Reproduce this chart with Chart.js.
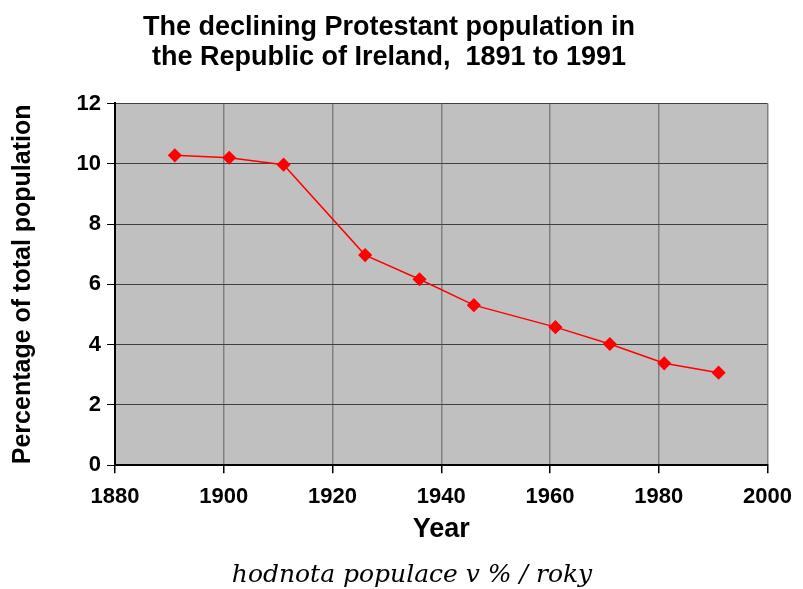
<!DOCTYPE html>
<html>
<head>
<meta charset="utf-8">
<script src="https://cdn.jsdelivr.net/npm/chart.js@4/dist/chart.umd.min.js"></script>
<style>
  html, body { margin: 0; padding: 0; background: #fff; }
  #wrap { width: 803px; height: 589px; position: relative; }
  #caption {
    position: absolute; left: 0; width: 824px; top: 559px;
    text-align: center; font: italic 25px "DejaVu Serif", serif; color: #000;
  }
</style>
</head>
<body>
<div id="wrap">
  <canvas id="chart" width="803" height="589"></canvas>
  <div id="caption"></div>
</div>
<script>
// Data
const years = [1891, 1901, 1911, 1926, 1936, 1946, 1961, 1971, 1981, 1991];
const percentages = [10.28, 10.2, 9.97, 6.97, 6.17, 5.31, 4.58, 4.02, 3.38, 3.07];
const titleLines = ['The declining Protestant population in', 'the Republic of Ireland,  1891 to 1991'];
const caption = 'hodnota populace v % / roky';

document.getElementById('caption').textContent = caption;

// grey plot background
const plotBg = {
    id: 'plotBg',
    beforeDraw(chart) {
        const a = chart.chartArea;
        const ctx = chart.ctx;
        ctx.save();
        ctx.fillStyle = '#c0c0c0';
        ctx.fillRect(a.left, a.top, a.right - a.left, a.bottom - a.top);
        ctx.restore();
    }
};

const boldFont = '"Liberation Sans", Arial, sans-serif';

new Chart(document.getElementById('chart').getContext('2d'), {
    type: 'line',
    data: {
        datasets: [{
            data: years.map((y, i) => ({ x: y, y: percentages[i] })),
            borderColor: '#ff0000',
            backgroundColor: '#ff0000',
            borderWidth: 1.5,
            pointStyle: 'rectRot',
            pointRadius: 6,
            pointHoverRadius: 6,
            tension: 0
        }]
    },
    options: {
        responsive: false,
        animation: false,
        layout: { padding: { left: 8, right: 33, top: 8, bottom: 43 } },
        plugins: {
            legend: { display: false },
            tooltip: { enabled: false },
            title: {
                display: true,
                text: titleLines,
                color: '#000',
                font: { family: boldFont, size: 27, weight: 'bold', lineHeight: 1.12 },
                padding: { top: 4, bottom: 31 }
            }
        },
        scales: {
            x: {
                type: 'linear',
                min: 1880,
                max: 2000,
                ticks: {
                    stepSize: 20,
                    color: '#000',
                    font: { family: boldFont, size: 22, weight: 'bold' },
                    padding: 11,
                    callback: v => String(v)
                },
                grid: { color: '#808080', lineWidth: 1.5, tickColor: '#000', tickLength: 8 },
                border: { color: '#000', width: 2 },
                title: {
                    display: true,
                    text: 'Year',
                    color: '#000',
                    font: { family: boldFont, size: 27, weight: 'bold' },
                    padding: { top: -8, bottom: 0 }
                }
            },
            y: {
                min: 0,
                max: 12,
                afterFit(scale) { scale.width = 107; },
                ticks: {
                    stepSize: 2,
                    color: '#000',
                    font: { family: boldFont, size: 22, weight: 'bold' },
                    padding: 6
                },
                grid: { color: '#404040', lineWidth: 1, borderDash: [2, 2], tickColor: '#000', tickLength: 8, tickBorderDash: [] },
                border: { color: '#000', width: 2 },
                title: {
                    display: true,
                    text: 'Percentage of total population',
                    color: '#000',
                    font: { family: boldFont, size: 25, weight: 'bold' },
                    padding: { top: 0, bottom: 6 }
                }
            }
        }
    },
    plugins: [plotBg]
});
</script>
</body>
</html>
